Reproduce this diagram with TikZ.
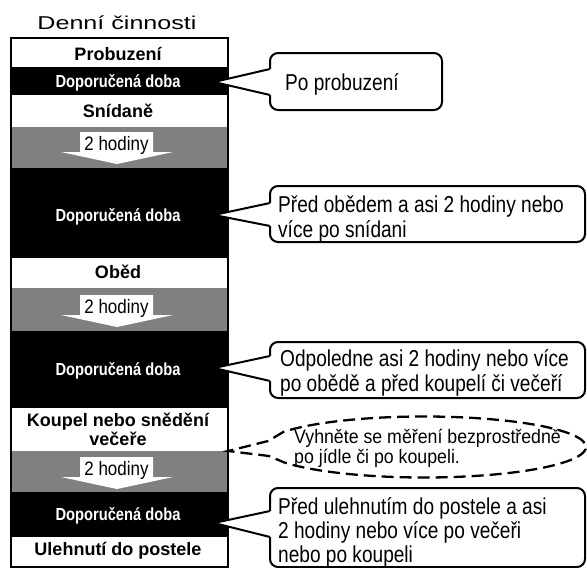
\documentclass[tikz,border=0pt]{standalone}
\usepackage{fontspec}
\setmainfont{Liberation Sans}
\newfontfamily\titlefont[FakeStretch=1.35]{Liberation Sans}
\newfontfamily\headfont{Liberation Sans}
\newfontfamily\recfont[FakeStretch=0.84]{Liberation Sans}
\newfontfamily\hourfont[FakeStretch=0.87]{Liberation Sans}
\newfontfamily\callfont[FakeStretch=0.83]{Liberation Sans}
\newfontfamily\notefont[FakeStretch=0.91]{Liberation Sans}
\definecolor{rowgray}{HTML}{808080}

\newcommand\hourarrow[2]{%
  \fill[white] (80,#2) -- (153,#2) -- (153,#2+20) -- (173,#2+20) -- (117,#2+32) -- (61,#2+20) -- (80,#2+20) -- cycle;
  \node[hour] (#1) at (116.5,#2+18.5) {2 hodiny};
}
% #1 top y, #2 right x, #3 bottom y, #4 upper notch, #5 tip y, #6 lower notch
\newcommand\callbox[6]{%
  \draw[bubble] (270,#1) rectangle (#2,#3);
  \fill[white] (214,#5) -- (270,#4) -- (272.5,#4) -- (272.5,#6) -- (270,#6) -- cycle;
  \draw[line width=2pt, miter limit=20] (270,#4) -- (214,#5) -- (270,#6);
}

\begin{document}
\begin{tikzpicture}[x=1pt,y=-1pt,
  head/.style={anchor=base, inner sep=0pt, font=\headfont\bfseries\fontsize{18}{18.3}\selectfont},
  rec/.style={anchor=base, inner sep=0pt, text=white, font=\recfont\bfseries\fontsize{17.5}{20}\selectfont},
  hour/.style={anchor=base, inner sep=0pt, font=\hourfont\fontsize{19.5}{20}\selectfont},
  call/.style={anchor=base west, inner sep=0pt, font=\callfont\fontsize{23}{25}\selectfont},
  note/.style={anchor=base west, inner sep=0pt, font=\notefont\fontsize{19.5}{20}\selectfont},
  bubble/.style={line width=2pt, rounded corners=8pt, fill=white}]

\useasboundingbox (0,0) rectangle (587,568);
\fill[white] (0,0) rectangle (587,568);

% title
\node[anchor=base, inner sep=0pt, font=\titlefont\fontsize{18.6}{20}\selectfont] (title) at (117,29.5) {Denní činnosti};

% column rows
\fill[white] (10.8,37.7) rectangle (227.7,566.5);
\fill[black] (10.8,67) rectangle (227.7,95);
\fill[rowgray] (10.8,127) rectangle (227.7,168);
\fill[black] (10.8,168) rectangle (227.7,258);
\fill[rowgray] (10.8,288) rectangle (227.7,331);
\fill[black] (10.8,331) rectangle (227.7,408);
\fill[rowgray] (10.8,451) rectangle (227.7,492);
\fill[black] (10.8,492) rectangle (227.7,537);
\draw[line width=2pt] (10.8,37.7) rectangle (227.7,566.5);

\node[head] (wake) at (118,60) {Probuzení};
\node[rec] (rec1) at (118,87) {Doporučená doba};
\node[head] (breakfast) at (118,117.5) {Snídaně};
\hourarrow{h1}{132}
\node[rec] (rec2) at (118,221.5) {Doporučená doba};
\node[head] (lunch) at (118,278.5) {Oběd};
\hourarrow{h2}{295}
\node[rec] (rec3) at (118,375) {Doporučená doba};
\node[head] (bath) at (118,426.7) {\vtop{\hbox to 200pt{\hfil Koupel nebo snědění\hfil}\hbox to 200pt{\hfil večeře\hfil}}};
\hourarrow{h3}{457}
\node[rec] (rec4) at (118,520) {Doporučená doba};
\node[head] (bed) at (118,555) {Ulehnutí do postele};

% callouts
\callbox{53}{442}{110}{69}{82}{95}
\node[call] (c1) at (285,90) {Po probuzení};

\callbox{186}{585}{242}{203}{215}{226}
\node[call] (c2) at (278,212) {\vtop{\hbox{Před obědem a asi 2 hodiny nebo}\hbox{více po snídani}}};

\callbox{342}{585}{398}{356}{368}{381}
\node[call] (c3) at (280,366.7) {\vtop{\hbox{Odpoledne asi 2 hodiny nebo více}\hbox{po obědě a před koupelí či večeří}}};

\callbox{488}{585}{567}{511}{523}{537}
\node[call] (c4) at (278,514) {\vtop{\baselineskip=24pt\hbox{Před ulehnutím do postele a asi}\hbox{2 hodiny nebo více po večeři}\hbox{nebo po koupeli}}};

% dashed note
\coordinate (ntip) at (228,451);
\coordinate (nb1) at (268,441);
\coordinate (nb2) at (269,456);
\draw[line width=2.3pt, dash pattern=on 12pt off 6pt]
  (283.7,431.75) -- (nb1) -- (ntip) -- (nb2) -- (283.7,462.25)
  arc[start angle=210, end angle=510, x radius=162pt, y radius=30.5pt];
\node[note] (note) at (294,443.7) {\vtop{\hbox{Vyhněte se měření bezprostředně}\hbox{po jídle či po koupeli.}}};
\end{tikzpicture}
\end{document}
